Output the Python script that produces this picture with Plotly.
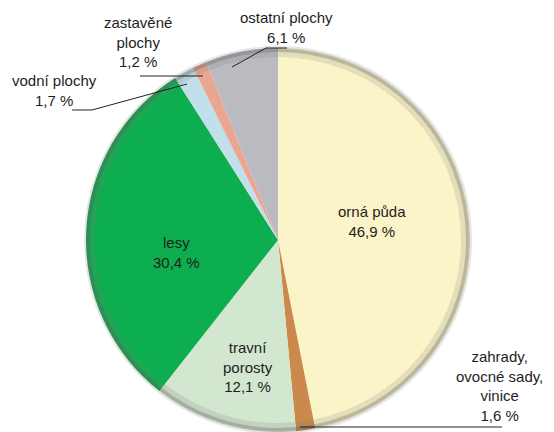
import plotly.graph_objects as go

# Land use shares (%)
categories = ["orná půda", "zahrady, ovocné sady, vinice", "travní porosty", "lesy",
              "vodní plochy", "zastavěné plochy", "ostatní plochy"]
shares = [46.9, 1.6, 12.1, 30.4, 1.7, 1.2, 6.1]
colors = ["#FBF4C8", "#C98A4B", "#D3E6CF", "#0DAE4F", "#C2DFEC", "#E9A792", "#BABBC1"]

W, H = 554, 432
CX, CY, R = 278, 240, 192  # pie centre / radius in pixels


def fmt(v):
    return f"{v:.1f}".replace(".", ",") + " %"


fig = go.Figure()
fig.add_trace(go.Pie(
    labels=categories,
    values=shares,
    sort=False,
    direction="clockwise",
    rotation=0,
    marker=dict(colors=colors, line=dict(width=0)),
    textinfo="none",
    hoverinfo="label+value",
    showlegend=False,
    domain=dict(x=[(CX - R) / W, (CX + R) / W],
                y=[max(0.0, 1 - (CY + R) / H), 1 - (CY - R) / H]),
))

# soft shaded rim
def ring(rad, width, color):
    fig.add_shape(type="circle", xref="paper", yref="paper",
                  x0=(CX - rad) / W, x1=(CX + rad) / W,
                  y0=1 - (CY + rad) / H, y1=1 - (CY - rad) / H,
                  line=dict(color=color, width=width), layer="above")

ring(R - 5, 8, "rgba(120,120,120,0.18)")
ring(R - 2, 4, "rgba(90,90,90,0.30)")
ring(R + 1, 2, "rgba(150,150,150,0.25)")

font = dict(family="Liberation Sans", size=15, color="#1e1e1e")

# labels inside slices
inside = {0: (372, 222), 3: (176, 252), 2: (248, 367)}
inside_text = {0: "orná půda", 3: "lesy", 2: "travní<br>porosty"}
for i, (x, y) in inside.items():
    fig.add_annotation(x=x / W, y=1 - y / H, xref="paper", yref="paper",
                       xanchor="center", yanchor="middle",
                       text=f"{inside_text[i]}<br>{fmt(shares[i])}",
                       showarrow=False, font=font, align="center")

# labels outside with leader lines
outside = {
    5: ((138, 42), "zastavěné<br>plochy"),
    6: ((286, 27), "ostatní plochy"),
    4: ((54, 90), "vodní plochy"),
    1: ((500, 386), "zahrady,<br>ovocné sady,<br>vinice"),
}
for i, ((x, y), txt) in outside.items():
    fig.add_annotation(x=x / W, y=1 - y / H, xref="paper", yref="paper",
                       xanchor="center", yanchor="middle",
                       text=f"{txt}<br>{fmt(shares[i])}",
                       showarrow=False, font=font, align="center")

leaders = [
    [(140, 76), (203, 76)],
    [(72, 110), (92, 110), (187, 84)],
    [(287, 48), (266, 48), (232, 67)],
    [(300, 427), (502, 427)],
]
for pts in leaders:
    path = "M " + " L ".join(f"{x / W} {1 - y / H}" for x, y in pts)
    fig.add_shape(type="path", xref="paper", yref="paper", path=path,
                  line=dict(color="#222222", width=1), layer="above")

fig.update_layout(width=W, height=H, margin=dict(l=0, r=0, t=0, b=0),
                  paper_bgcolor="white", plot_bgcolor="white")
fig.write_html("out.html")
